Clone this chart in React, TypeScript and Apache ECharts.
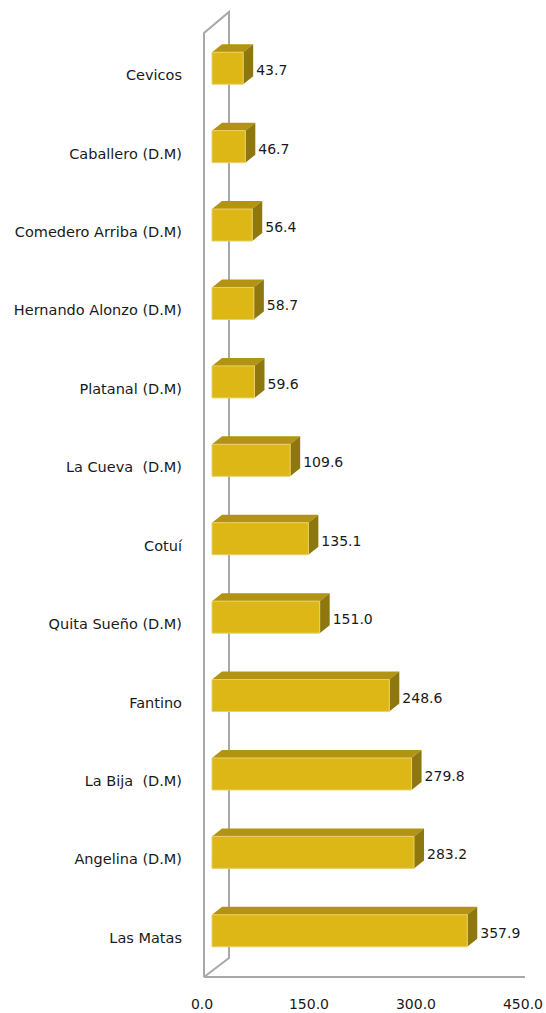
import React, { useEffect, useRef } from "react";
import * as echarts from "echarts";

const categories = [
  "Cevicos",
  "Caballero (D.M)",
  "Comedero Arriba (D.M)",
  "Hernando Alonzo (D.M)",
  "Platanal (D.M)",
  "La Cueva  (D.M)",
  "Cotuí",
  "Quita Sueño (D.M)",
  "Fantino",
  "La Bija  (D.M)",
  "Angelina (D.M)",
  "Las Matas",
];
const values = [43.7, 46.7, 56.4, 58.7, 59.6, 109.6, 135.1, 151.0, 248.6, 279.8, 283.2, 357.9];
const xMin = 0;
const xMax = 450;
const xInterval = 150;

const FONT = "DejaVu Sans";

export default function App() {
  const ref = useRef<HTMLDivElement>(null);
  useEffect(() => {
    if (!ref.current) return;
    const chart = echarts.init(ref.current, undefined, { renderer: "svg" });
    const option: any = {
      animation: false,
      backgroundColor: "#ffffff",
      grid: { left: 202, width: 324, top: 36, bottom: 36 },
      xAxis: {
        type: "value",
        min: xMin,
        max: xMax,
        interval: xInterval,
        axisLine: { show: false },
        axisTick: { show: false },
        splitLine: { show: false },
        axisLabel: {
          margin: 20,
          color: "#1a1a1a",
          fontFamily: FONT,
          fontSize: 14,
          formatter: (v: number) => v.toFixed(1),
        },
      },
      yAxis: {
        type: "category",
        inverse: true,
        data: categories,
        axisLine: { show: false },
        axisTick: { show: false },
        splitLine: { show: false },
        axisLabel: {
          margin: 20,
          color: "#1a1a1a",
          fontFamily: FONT,
          fontSize: 14.5,
        },
      },
      series: [
        {
          type: "custom",
          z: 1,
          silent: true,
          clip: false,
          data: [[0, 0]],
          encode: { x: 0, y: 1 },
          renderItem: (params: any) => {
            const cs = params.coordSys;
            const L = cs.x + 2;
            const B = cs.y + cs.height;
            const T = cs.y - 3;
            const stroke = { stroke: "#A8A8A8", lineWidth: 2, fill: "none" };
            return {
              type: "group",
              children: [
                {
                  type: "polyline",
                  shape: {
                    points: [
                      [L, B],
                      [L, T],
                      [L + 25, T - 21],
                      [L + 25, B - 19],
                      [L, B],
                    ],
                  },
                  style: stroke,
                },
                {
                  type: "line",
                  shape: { x1: L, y1: B, x2: cs.x + cs.width + 2, y2: B },
                  style: stroke,
                },
              ],
            };
          },
        },
        {
          type: "custom",
          z: 2,
          clip: false,
          data: values.map((v, i) => [v, i]),
          encode: { x: 0, y: 1 },
          renderItem: (params: any, api: any) => {
            const v = api.value(0);
            const idx = api.value(1);
            const p0 = api.coord([0, idx]);
            const p1 = api.coord([v, idx]);
            const off = 10;
            const dx = 10;
            const dy = 8;
            const yc = p0[1] - 7;
            const yt = yc - 16;
            const yb = yc + 16;
            const x0 = p0[0] + off;
            const x1 = p1[0] + off;
            return {
              type: "group",
              children: [
                {
                  type: "polygon",
                  shape: {
                    points: [
                      [x0, yt],
                      [x0 + dx, yt - dy],
                      [x1 + dx, yt - dy],
                      [x1, yt],
                    ],
                  },
                  style: { fill: "#B39312" },
                },
                {
                  type: "polygon",
                  shape: {
                    points: [
                      [x1, yt],
                      [x1 + dx, yt - dy],
                      [x1 + dx, yb - dy],
                      [x1, yb],
                    ],
                  },
                  style: { fill: "#8E770E" },
                },
                {
                  type: "rect",
                  shape: { x: x0, y: yt, width: x1 - x0, height: yb - yt },
                  style: { fill: "#DCB716", stroke: "#E8D06A", lineWidth: 1 },
                },
                {
                  type: "text",
                  x: x1 + dx + 3,
                  y: yc + 2,
                  style: {
                    text: v.toFixed(1),
                    fill: "#1a1a1a",
                    font: `14px "${FONT}"`,
                    verticalAlign: "middle",
                    align: "left",
                  },
                },
              ],
            };
          },
        },
      ],
    };
    chart.setOption(option);
    return () => chart.dispose();
  }, []);
  return (
    <div
      ref={ref}
      style={{ position: "absolute", left: 0, top: 0, width: 546, height: 1013 }}
    />
  );
}
